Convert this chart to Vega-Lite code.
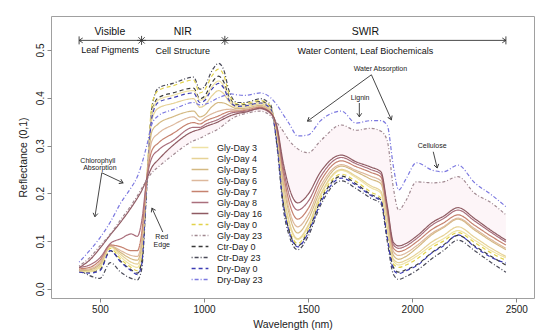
{
"$schema":"https://vega.github.io/schema/vega-lite/v6.json",
"width":483,"height":282,
"autosize":{"type":"none"},
"padding":{"left":51,"top":16,"right":16,"bottom":37},
"background":"white",
"config":{"view":{"stroke":"#a0a0a0","strokeWidth":1},"font":"Liberation Sans"},
"datasets":{
"spectra":[
{"s":"Ctr-Day 23","w":400,"r":0.040},{"s":"Ctr-Day 23","w":450,"r":0.028},{"s":"Ctr-Day 23","w":500,"r":0.022},{"s":"Ctr-Day 23","w":550,"r":0.055},{"s":"Ctr-Day 23","w":600,"r":0.035},{"s":"Ctr-Day 23","w":650,"r":0.022},{"s":"Ctr-Day 23","w":680,"r":0.019},{"s":"Ctr-Day 23","w":700,"r":0.040},{"s":"Ctr-Day 23","w":725,"r":0.210},{"s":"Ctr-Day 23","w":750,"r":0.380},{"s":"Ctr-Day 23","w":780,"r":0.420},{"s":"Ctr-Day 23","w":850,"r":0.430},{"s":"Ctr-Day 23","w":950,"r":0.443},{"s":"Ctr-Day 23","w":980,"r":0.418},{"s":"Ctr-Day 23","w":1000,"r":0.422},{"s":"Ctr-Day 23","w":1040,"r":0.458},{"s":"Ctr-Day 23","w":1070,"r":0.472},{"s":"Ctr-Day 23","w":1095,"r":0.458},{"s":"Ctr-Day 23","w":1120,"r":0.415},{"s":"Ctr-Day 23","w":1160,"r":0.390},{"s":"Ctr-Day 23","w":1200,"r":0.390},{"s":"Ctr-Day 23","w":1270,"r":0.398},{"s":"Ctr-Day 23","w":1320,"r":0.385},{"s":"Ctr-Day 23","w":1350,"r":0.300},{"s":"Ctr-Day 23","w":1380,"r":0.170},{"s":"Ctr-Day 23","w":1410,"r":0.110},{"s":"Ctr-Day 23","w":1450,"r":0.082},{"s":"Ctr-Day 23","w":1500,"r":0.110},{"s":"Ctr-Day 23","w":1560,"r":0.175},{"s":"Ctr-Day 23","w":1660,"r":0.226},{"s":"Ctr-Day 23","w":1730,"r":0.210},{"s":"Ctr-Day 23","w":1800,"r":0.190},{"s":"Ctr-Day 23","w":1850,"r":0.178},{"s":"Ctr-Day 23","w":1880,"r":0.100},{"s":"Ctr-Day 23","w":1910,"r":0.030},{"s":"Ctr-Day 23","w":1935,"r":0.020},{"s":"Ctr-Day 23","w":1970,"r":0.026},{"s":"Ctr-Day 23","w":2020,"r":0.038},{"s":"Ctr-Day 23","w":2100,"r":0.065},{"s":"Ctr-Day 23","w":2150,"r":0.080},{"s":"Ctr-Day 23","w":2220,"r":0.102},{"s":"Ctr-Day 23","w":2300,"r":0.080},{"s":"Ctr-Day 23","w":2380,"r":0.055},{"s":"Ctr-Day 23","w":2450,"r":0.035},
{"s":"Gly-Day 0","w":400,"r":0.036},{"s":"Gly-Day 0","w":450,"r":0.035},{"s":"Gly-Day 0","w":500,"r":0.042},{"s":"Gly-Day 0","w":550,"r":0.085},{"s":"Gly-Day 0","w":600,"r":0.062},{"s":"Gly-Day 0","w":650,"r":0.045},{"s":"Gly-Day 0","w":680,"r":0.038},{"s":"Gly-Day 0","w":700,"r":0.060},{"s":"Gly-Day 0","w":725,"r":0.230},{"s":"Gly-Day 0","w":750,"r":0.385},{"s":"Gly-Day 0","w":780,"r":0.415},{"s":"Gly-Day 0","w":850,"r":0.425},{"s":"Gly-Day 0","w":950,"r":0.437},{"s":"Gly-Day 0","w":980,"r":0.410},{"s":"Gly-Day 0","w":1000,"r":0.415},{"s":"Gly-Day 0","w":1040,"r":0.447},{"s":"Gly-Day 0","w":1070,"r":0.460},{"s":"Gly-Day 0","w":1095,"r":0.447},{"s":"Gly-Day 0","w":1120,"r":0.408},{"s":"Gly-Day 0","w":1160,"r":0.387},{"s":"Gly-Day 0","w":1200,"r":0.388},{"s":"Gly-Day 0","w":1270,"r":0.394},{"s":"Gly-Day 0","w":1320,"r":0.382},{"s":"Gly-Day 0","w":1350,"r":0.310},{"s":"Gly-Day 0","w":1380,"r":0.190},{"s":"Gly-Day 0","w":1410,"r":0.125},{"s":"Gly-Day 0","w":1450,"r":0.095},{"s":"Gly-Day 0","w":1500,"r":0.125},{"s":"Gly-Day 0","w":1560,"r":0.190},{"s":"Gly-Day 0","w":1660,"r":0.240},{"s":"Gly-Day 0","w":1730,"r":0.225},{"s":"Gly-Day 0","w":1800,"r":0.203},{"s":"Gly-Day 0","w":1850,"r":0.190},{"s":"Gly-Day 0","w":1880,"r":0.115},{"s":"Gly-Day 0","w":1910,"r":0.052},{"s":"Gly-Day 0","w":1935,"r":0.045},{"s":"Gly-Day 0","w":1970,"r":0.050},{"s":"Gly-Day 0","w":2020,"r":0.062},{"s":"Gly-Day 0","w":2100,"r":0.088},{"s":"Gly-Day 0","w":2150,"r":0.100},{"s":"Gly-Day 0","w":2220,"r":0.118},{"s":"Gly-Day 0","w":2300,"r":0.097},{"s":"Gly-Day 0","w":2380,"r":0.075},{"s":"Gly-Day 0","w":2450,"r":0.060},
{"s":"Ctr-Day 0","w":400,"r":0.038},{"s":"Ctr-Day 0","w":450,"r":0.036},{"s":"Ctr-Day 0","w":500,"r":0.040},{"s":"Ctr-Day 0","w":550,"r":0.080},{"s":"Ctr-Day 0","w":600,"r":0.058},{"s":"Ctr-Day 0","w":650,"r":0.040},{"s":"Ctr-Day 0","w":680,"r":0.033},{"s":"Ctr-Day 0","w":700,"r":0.055},{"s":"Ctr-Day 0","w":725,"r":0.220},{"s":"Ctr-Day 0","w":750,"r":0.370},{"s":"Ctr-Day 0","w":780,"r":0.400},{"s":"Ctr-Day 0","w":850,"r":0.410},{"s":"Ctr-Day 0","w":950,"r":0.420},{"s":"Ctr-Day 0","w":980,"r":0.398},{"s":"Ctr-Day 0","w":1000,"r":0.402},{"s":"Ctr-Day 0","w":1040,"r":0.433},{"s":"Ctr-Day 0","w":1070,"r":0.445},{"s":"Ctr-Day 0","w":1095,"r":0.433},{"s":"Ctr-Day 0","w":1120,"r":0.402},{"s":"Ctr-Day 0","w":1160,"r":0.385},{"s":"Ctr-Day 0","w":1200,"r":0.385},{"s":"Ctr-Day 0","w":1270,"r":0.392},{"s":"Ctr-Day 0","w":1320,"r":0.380},{"s":"Ctr-Day 0","w":1350,"r":0.310},{"s":"Ctr-Day 0","w":1380,"r":0.185},{"s":"Ctr-Day 0","w":1410,"r":0.120},{"s":"Ctr-Day 0","w":1450,"r":0.090},{"s":"Ctr-Day 0","w":1500,"r":0.120},{"s":"Ctr-Day 0","w":1560,"r":0.185},{"s":"Ctr-Day 0","w":1660,"r":0.236},{"s":"Ctr-Day 0","w":1730,"r":0.220},{"s":"Ctr-Day 0","w":1800,"r":0.198},{"s":"Ctr-Day 0","w":1850,"r":0.186},{"s":"Ctr-Day 0","w":1880,"r":0.110},{"s":"Ctr-Day 0","w":1910,"r":0.045},{"s":"Ctr-Day 0","w":1935,"r":0.035},{"s":"Ctr-Day 0","w":1970,"r":0.040},{"s":"Ctr-Day 0","w":2020,"r":0.050},{"s":"Ctr-Day 0","w":2100,"r":0.078},{"s":"Ctr-Day 0","w":2150,"r":0.092},{"s":"Ctr-Day 0","w":2220,"r":0.112},{"s":"Ctr-Day 0","w":2300,"r":0.090},{"s":"Ctr-Day 0","w":2380,"r":0.068},{"s":"Ctr-Day 0","w":2450,"r":0.050},
{"s":"Gly-Day 3","w":400,"r":0.037},{"s":"Gly-Day 3","w":450,"r":0.036},{"s":"Gly-Day 3","w":500,"r":0.045},{"s":"Gly-Day 3","w":550,"r":0.088},{"s":"Gly-Day 3","w":600,"r":0.067},{"s":"Gly-Day 3","w":650,"r":0.050},{"s":"Gly-Day 3","w":680,"r":0.045},{"s":"Gly-Day 3","w":700,"r":0.070},{"s":"Gly-Day 3","w":725,"r":0.230},{"s":"Gly-Day 3","w":750,"r":0.370},{"s":"Gly-Day 3","w":780,"r":0.395},{"s":"Gly-Day 3","w":850,"r":0.405},{"s":"Gly-Day 3","w":950,"r":0.415},{"s":"Gly-Day 3","w":980,"r":0.395},{"s":"Gly-Day 3","w":1000,"r":0.398},{"s":"Gly-Day 3","w":1040,"r":0.424},{"s":"Gly-Day 3","w":1070,"r":0.435},{"s":"Gly-Day 3","w":1095,"r":0.425},{"s":"Gly-Day 3","w":1120,"r":0.398},{"s":"Gly-Day 3","w":1160,"r":0.383},{"s":"Gly-Day 3","w":1200,"r":0.384},{"s":"Gly-Day 3","w":1270,"r":0.390},{"s":"Gly-Day 3","w":1320,"r":0.378},{"s":"Gly-Day 3","w":1350,"r":0.320},{"s":"Gly-Day 3","w":1380,"r":0.200},{"s":"Gly-Day 3","w":1410,"r":0.135},{"s":"Gly-Day 3","w":1450,"r":0.103},{"s":"Gly-Day 3","w":1500,"r":0.130},{"s":"Gly-Day 3","w":1560,"r":0.195},{"s":"Gly-Day 3","w":1660,"r":0.248},{"s":"Gly-Day 3","w":1730,"r":0.233},{"s":"Gly-Day 3","w":1800,"r":0.212},{"s":"Gly-Day 3","w":1850,"r":0.200},{"s":"Gly-Day 3","w":1880,"r":0.125},{"s":"Gly-Day 3","w":1910,"r":0.058},{"s":"Gly-Day 3","w":1935,"r":0.050},{"s":"Gly-Day 3","w":1970,"r":0.055},{"s":"Gly-Day 3","w":2020,"r":0.068},{"s":"Gly-Day 3","w":2100,"r":0.093},{"s":"Gly-Day 3","w":2150,"r":0.105},{"s":"Gly-Day 3","w":2220,"r":0.122},{"s":"Gly-Day 3","w":2300,"r":0.102},{"s":"Gly-Day 3","w":2380,"r":0.080},{"s":"Gly-Day 3","w":2450,"r":0.065},
{"s":"Gly-Day 4","w":400,"r":0.038},{"s":"Gly-Day 4","w":450,"r":0.038},{"s":"Gly-Day 4","w":500,"r":0.048},{"s":"Gly-Day 4","w":550,"r":0.090},{"s":"Gly-Day 4","w":600,"r":0.072},{"s":"Gly-Day 4","w":650,"r":0.056},{"s":"Gly-Day 4","w":680,"r":0.052},{"s":"Gly-Day 4","w":700,"r":0.080},{"s":"Gly-Day 4","w":725,"r":0.230},{"s":"Gly-Day 4","w":750,"r":0.355},{"s":"Gly-Day 4","w":780,"r":0.378},{"s":"Gly-Day 4","w":850,"r":0.388},{"s":"Gly-Day 4","w":950,"r":0.398},{"s":"Gly-Day 4","w":980,"r":0.380},{"s":"Gly-Day 4","w":1000,"r":0.383},{"s":"Gly-Day 4","w":1040,"r":0.405},{"s":"Gly-Day 4","w":1070,"r":0.415},{"s":"Gly-Day 4","w":1095,"r":0.408},{"s":"Gly-Day 4","w":1120,"r":0.392},{"s":"Gly-Day 4","w":1160,"r":0.380},{"s":"Gly-Day 4","w":1200,"r":0.381},{"s":"Gly-Day 4","w":1270,"r":0.387},{"s":"Gly-Day 4","w":1320,"r":0.375},{"s":"Gly-Day 4","w":1350,"r":0.325},{"s":"Gly-Day 4","w":1380,"r":0.210},{"s":"Gly-Day 4","w":1410,"r":0.140},{"s":"Gly-Day 4","w":1450,"r":0.105},{"s":"Gly-Day 4","w":1500,"r":0.133},{"s":"Gly-Day 4","w":1560,"r":0.198},{"s":"Gly-Day 4","w":1660,"r":0.250},{"s":"Gly-Day 4","w":1730,"r":0.236},{"s":"Gly-Day 4","w":1800,"r":0.216},{"s":"Gly-Day 4","w":1850,"r":0.204},{"s":"Gly-Day 4","w":1880,"r":0.130},{"s":"Gly-Day 4","w":1910,"r":0.062},{"s":"Gly-Day 4","w":1935,"r":0.055},{"s":"Gly-Day 4","w":1970,"r":0.060},{"s":"Gly-Day 4","w":2020,"r":0.073},{"s":"Gly-Day 4","w":2100,"r":0.100},{"s":"Gly-Day 4","w":2150,"r":0.112},{"s":"Gly-Day 4","w":2220,"r":0.130},{"s":"Gly-Day 4","w":2300,"r":0.108},{"s":"Gly-Day 4","w":2380,"r":0.085},{"s":"Gly-Day 4","w":2450,"r":0.068},
{"s":"Dry-Day 0","w":400,"r":0.035},{"s":"Dry-Day 0","w":450,"r":0.033},{"s":"Dry-Day 0","w":500,"r":0.038},{"s":"Dry-Day 0","w":550,"r":0.080},{"s":"Dry-Day 0","w":600,"r":0.056},{"s":"Dry-Day 0","w":650,"r":0.038},{"s":"Dry-Day 0","w":680,"r":0.030},{"s":"Dry-Day 0","w":700,"r":0.050},{"s":"Dry-Day 0","w":725,"r":0.220},{"s":"Dry-Day 0","w":750,"r":0.360},{"s":"Dry-Day 0","w":780,"r":0.390},{"s":"Dry-Day 0","w":850,"r":0.400},{"s":"Dry-Day 0","w":950,"r":0.410},{"s":"Dry-Day 0","w":980,"r":0.390},{"s":"Dry-Day 0","w":1000,"r":0.393},{"s":"Dry-Day 0","w":1040,"r":0.419},{"s":"Dry-Day 0","w":1070,"r":0.430},{"s":"Dry-Day 0","w":1095,"r":0.420},{"s":"Dry-Day 0","w":1120,"r":0.395},{"s":"Dry-Day 0","w":1160,"r":0.382},{"s":"Dry-Day 0","w":1200,"r":0.383},{"s":"Dry-Day 0","w":1270,"r":0.389},{"s":"Dry-Day 0","w":1320,"r":0.377},{"s":"Dry-Day 0","w":1350,"r":0.305},{"s":"Dry-Day 0","w":1380,"r":0.180},{"s":"Dry-Day 0","w":1410,"r":0.118},{"s":"Dry-Day 0","w":1450,"r":0.088},{"s":"Dry-Day 0","w":1500,"r":0.117},{"s":"Dry-Day 0","w":1560,"r":0.180},{"s":"Dry-Day 0","w":1660,"r":0.232},{"s":"Dry-Day 0","w":1730,"r":0.217},{"s":"Dry-Day 0","w":1800,"r":0.196},{"s":"Dry-Day 0","w":1850,"r":0.183},{"s":"Dry-Day 0","w":1880,"r":0.108},{"s":"Dry-Day 0","w":1910,"r":0.040},{"s":"Dry-Day 0","w":1935,"r":0.032},{"s":"Dry-Day 0","w":1970,"r":0.038},{"s":"Dry-Day 0","w":2020,"r":0.048},{"s":"Dry-Day 0","w":2100,"r":0.077},{"s":"Dry-Day 0","w":2150,"r":0.090},{"s":"Dry-Day 0","w":2220,"r":0.113},{"s":"Dry-Day 0","w":2300,"r":0.088},{"s":"Dry-Day 0","w":2380,"r":0.066},{"s":"Dry-Day 0","w":2450,"r":0.054},
{"s":"Gly-Day 5","w":400,"r":0.038},{"s":"Gly-Day 5","w":450,"r":0.040},{"s":"Gly-Day 5","w":500,"r":0.052},{"s":"Gly-Day 5","w":550,"r":0.090},{"s":"Gly-Day 5","w":600,"r":0.076},{"s":"Gly-Day 5","w":650,"r":0.063},{"s":"Gly-Day 5","w":680,"r":0.060},{"s":"Gly-Day 5","w":700,"r":0.090},{"s":"Gly-Day 5","w":725,"r":0.230},{"s":"Gly-Day 5","w":750,"r":0.330},{"s":"Gly-Day 5","w":780,"r":0.345},{"s":"Gly-Day 5","w":850,"r":0.360},{"s":"Gly-Day 5","w":950,"r":0.372},{"s":"Gly-Day 5","w":980,"r":0.360},{"s":"Gly-Day 5","w":1000,"r":0.363},{"s":"Gly-Day 5","w":1040,"r":0.382},{"s":"Gly-Day 5","w":1070,"r":0.390},{"s":"Gly-Day 5","w":1095,"r":0.389},{"s":"Gly-Day 5","w":1120,"r":0.384},{"s":"Gly-Day 5","w":1160,"r":0.377},{"s":"Gly-Day 5","w":1200,"r":0.378},{"s":"Gly-Day 5","w":1270,"r":0.384},{"s":"Gly-Day 5","w":1320,"r":0.372},{"s":"Gly-Day 5","w":1350,"r":0.330},{"s":"Gly-Day 5","w":1380,"r":0.225},{"s":"Gly-Day 5","w":1410,"r":0.155},{"s":"Gly-Day 5","w":1450,"r":0.117},{"s":"Gly-Day 5","w":1500,"r":0.145},{"s":"Gly-Day 5","w":1560,"r":0.207},{"s":"Gly-Day 5","w":1660,"r":0.257},{"s":"Gly-Day 5","w":1730,"r":0.245},{"s":"Gly-Day 5","w":1800,"r":0.230},{"s":"Gly-Day 5","w":1850,"r":0.220},{"s":"Gly-Day 5","w":1880,"r":0.150},{"s":"Gly-Day 5","w":1910,"r":0.070},{"s":"Gly-Day 5","w":1935,"r":0.062},{"s":"Gly-Day 5","w":1970,"r":0.068},{"s":"Gly-Day 5","w":2020,"r":0.085},{"s":"Gly-Day 5","w":2100,"r":0.115},{"s":"Gly-Day 5","w":2150,"r":0.128},{"s":"Gly-Day 5","w":2220,"r":0.146},{"s":"Gly-Day 5","w":2300,"r":0.123},{"s":"Gly-Day 5","w":2380,"r":0.100},{"s":"Gly-Day 5","w":2450,"r":0.082},
{"s":"Gly-Day 6","w":400,"r":0.040},{"s":"Gly-Day 6","w":450,"r":0.042},{"s":"Gly-Day 6","w":500,"r":0.055},{"s":"Gly-Day 6","w":550,"r":0.090},{"s":"Gly-Day 6","w":600,"r":0.080},{"s":"Gly-Day 6","w":650,"r":0.070},{"s":"Gly-Day 6","w":680,"r":0.068},{"s":"Gly-Day 6","w":700,"r":0.100},{"s":"Gly-Day 6","w":725,"r":0.230},{"s":"Gly-Day 6","w":750,"r":0.310},{"s":"Gly-Day 6","w":780,"r":0.325},{"s":"Gly-Day 6","w":850,"r":0.343},{"s":"Gly-Day 6","w":950,"r":0.360},{"s":"Gly-Day 6","w":980,"r":0.352},{"s":"Gly-Day 6","w":1010,"r":0.360},{"s":"Gly-Day 6","w":1070,"r":0.372},{"s":"Gly-Day 6","w":1100,"r":0.375},{"s":"Gly-Day 6","w":1130,"r":0.376},{"s":"Gly-Day 6","w":1160,"r":0.374},{"s":"Gly-Day 6","w":1200,"r":0.376},{"s":"Gly-Day 6","w":1270,"r":0.382},{"s":"Gly-Day 6","w":1320,"r":0.370},{"s":"Gly-Day 6","w":1350,"r":0.333},{"s":"Gly-Day 6","w":1380,"r":0.235},{"s":"Gly-Day 6","w":1410,"r":0.165},{"s":"Gly-Day 6","w":1450,"r":0.130},{"s":"Gly-Day 6","w":1500,"r":0.155},{"s":"Gly-Day 6","w":1560,"r":0.215},{"s":"Gly-Day 6","w":1660,"r":0.260},{"s":"Gly-Day 6","w":1730,"r":0.248},{"s":"Gly-Day 6","w":1800,"r":0.236},{"s":"Gly-Day 6","w":1850,"r":0.226},{"s":"Gly-Day 6","w":1880,"r":0.158},{"s":"Gly-Day 6","w":1910,"r":0.078},{"s":"Gly-Day 6","w":1935,"r":0.070},{"s":"Gly-Day 6","w":1970,"r":0.075},{"s":"Gly-Day 6","w":2020,"r":0.090},{"s":"Gly-Day 6","w":2100,"r":0.118},{"s":"Gly-Day 6","w":2150,"r":0.130},{"s":"Gly-Day 6","w":2220,"r":0.148},{"s":"Gly-Day 6","w":2300,"r":0.126},{"s":"Gly-Day 6","w":2380,"r":0.103},{"s":"Gly-Day 6","w":2450,"r":0.085},
{"s":"Gly-Day 7","w":400,"r":0.042},{"s":"Gly-Day 7","w":450,"r":0.045},{"s":"Gly-Day 7","w":500,"r":0.060},{"s":"Gly-Day 7","w":550,"r":0.092},{"s":"Gly-Day 7","w":600,"r":0.088},{"s":"Gly-Day 7","w":650,"r":0.080},{"s":"Gly-Day 7","w":680,"r":0.080},{"s":"Gly-Day 7","w":700,"r":0.115},{"s":"Gly-Day 7","w":725,"r":0.230},{"s":"Gly-Day 7","w":750,"r":0.290},{"s":"Gly-Day 7","w":780,"r":0.305},{"s":"Gly-Day 7","w":850,"r":0.325},{"s":"Gly-Day 7","w":950,"r":0.348},{"s":"Gly-Day 7","w":980,"r":0.345},{"s":"Gly-Day 7","w":1010,"r":0.352},{"s":"Gly-Day 7","w":1070,"r":0.362},{"s":"Gly-Day 7","w":1100,"r":0.368},{"s":"Gly-Day 7","w":1130,"r":0.372},{"s":"Gly-Day 7","w":1160,"r":0.372},{"s":"Gly-Day 7","w":1200,"r":0.374},{"s":"Gly-Day 7","w":1270,"r":0.380},{"s":"Gly-Day 7","w":1320,"r":0.368},{"s":"Gly-Day 7","w":1350,"r":0.335},{"s":"Gly-Day 7","w":1380,"r":0.245},{"s":"Gly-Day 7","w":1410,"r":0.180},{"s":"Gly-Day 7","w":1450,"r":0.146},{"s":"Gly-Day 7","w":1500,"r":0.168},{"s":"Gly-Day 7","w":1560,"r":0.225},{"s":"Gly-Day 7","w":1660,"r":0.268},{"s":"Gly-Day 7","w":1730,"r":0.256},{"s":"Gly-Day 7","w":1800,"r":0.244},{"s":"Gly-Day 7","w":1850,"r":0.234},{"s":"Gly-Day 7","w":1880,"r":0.165},{"s":"Gly-Day 7","w":1910,"r":0.085},{"s":"Gly-Day 7","w":1935,"r":0.078},{"s":"Gly-Day 7","w":1970,"r":0.083},{"s":"Gly-Day 7","w":2020,"r":0.098},{"s":"Gly-Day 7","w":2100,"r":0.126},{"s":"Gly-Day 7","w":2150,"r":0.138},{"s":"Gly-Day 7","w":2220,"r":0.155},{"s":"Gly-Day 7","w":2300,"r":0.133},{"s":"Gly-Day 7","w":2380,"r":0.110},{"s":"Gly-Day 7","w":2450,"r":0.092},
{"s":"Gly-Day 8","w":400,"r":0.045},{"s":"Gly-Day 8","w":450,"r":0.050},{"s":"Gly-Day 8","w":500,"r":0.065},{"s":"Gly-Day 8","w":550,"r":0.095},{"s":"Gly-Day 8","w":600,"r":0.105},{"s":"Gly-Day 8","w":650,"r":0.115},{"s":"Gly-Day 8","w":680,"r":0.110},{"s":"Gly-Day 8","w":700,"r":0.140},{"s":"Gly-Day 8","w":725,"r":0.230},{"s":"Gly-Day 8","w":750,"r":0.275},{"s":"Gly-Day 8","w":780,"r":0.290},{"s":"Gly-Day 8","w":850,"r":0.310},{"s":"Gly-Day 8","w":950,"r":0.338},{"s":"Gly-Day 8","w":980,"r":0.338},{"s":"Gly-Day 8","w":1010,"r":0.345},{"s":"Gly-Day 8","w":1070,"r":0.355},{"s":"Gly-Day 8","w":1100,"r":0.362},{"s":"Gly-Day 8","w":1130,"r":0.368},{"s":"Gly-Day 8","w":1160,"r":0.370},{"s":"Gly-Day 8","w":1200,"r":0.372},{"s":"Gly-Day 8","w":1270,"r":0.377},{"s":"Gly-Day 8","w":1320,"r":0.367},{"s":"Gly-Day 8","w":1350,"r":0.338},{"s":"Gly-Day 8","w":1380,"r":0.255},{"s":"Gly-Day 8","w":1410,"r":0.195},{"s":"Gly-Day 8","w":1450,"r":0.165},{"s":"Gly-Day 8","w":1500,"r":0.183},{"s":"Gly-Day 8","w":1560,"r":0.235},{"s":"Gly-Day 8","w":1660,"r":0.275},{"s":"Gly-Day 8","w":1730,"r":0.262},{"s":"Gly-Day 8","w":1800,"r":0.250},{"s":"Gly-Day 8","w":1850,"r":0.240},{"s":"Gly-Day 8","w":1880,"r":0.170},{"s":"Gly-Day 8","w":1910,"r":0.092},{"s":"Gly-Day 8","w":1935,"r":0.085},{"s":"Gly-Day 8","w":1970,"r":0.090},{"s":"Gly-Day 8","w":2020,"r":0.105},{"s":"Gly-Day 8","w":2100,"r":0.135},{"s":"Gly-Day 8","w":2150,"r":0.147},{"s":"Gly-Day 8","w":2220,"r":0.165},{"s":"Gly-Day 8","w":2300,"r":0.142},{"s":"Gly-Day 8","w":2380,"r":0.118},{"s":"Gly-Day 8","w":2450,"r":0.098},
{"s":"Gly-Day 16","w":400,"r":0.045},{"s":"Gly-Day 16","w":450,"r":0.060},{"s":"Gly-Day 16","w":500,"r":0.085},{"s":"Gly-Day 16","w":550,"r":0.113},{"s":"Gly-Day 16","w":600,"r":0.140},{"s":"Gly-Day 16","w":650,"r":0.170},{"s":"Gly-Day 16","w":680,"r":0.190},{"s":"Gly-Day 16","w":700,"r":0.205},{"s":"Gly-Day 16","w":725,"r":0.230},{"s":"Gly-Day 16","w":750,"r":0.255},{"s":"Gly-Day 16","w":780,"r":0.270},{"s":"Gly-Day 16","w":850,"r":0.300},{"s":"Gly-Day 16","w":950,"r":0.330},{"s":"Gly-Day 16","w":980,"r":0.334},{"s":"Gly-Day 16","w":1010,"r":0.340},{"s":"Gly-Day 16","w":1070,"r":0.350},{"s":"Gly-Day 16","w":1100,"r":0.357},{"s":"Gly-Day 16","w":1130,"r":0.363},{"s":"Gly-Day 16","w":1160,"r":0.367},{"s":"Gly-Day 16","w":1200,"r":0.370},{"s":"Gly-Day 16","w":1270,"r":0.378},{"s":"Gly-Day 16","w":1320,"r":0.368},{"s":"Gly-Day 16","w":1350,"r":0.340},{"s":"Gly-Day 16","w":1380,"r":0.265},{"s":"Gly-Day 16","w":1410,"r":0.210},{"s":"Gly-Day 16","w":1450,"r":0.180},{"s":"Gly-Day 16","w":1500,"r":0.198},{"s":"Gly-Day 16","w":1560,"r":0.245},{"s":"Gly-Day 16","w":1660,"r":0.280},{"s":"Gly-Day 16","w":1730,"r":0.266},{"s":"Gly-Day 16","w":1800,"r":0.255},{"s":"Gly-Day 16","w":1850,"r":0.245},{"s":"Gly-Day 16","w":1880,"r":0.175},{"s":"Gly-Day 16","w":1910,"r":0.097},{"s":"Gly-Day 16","w":1935,"r":0.090},{"s":"Gly-Day 16","w":1970,"r":0.095},{"s":"Gly-Day 16","w":2020,"r":0.110},{"s":"Gly-Day 16","w":2100,"r":0.140},{"s":"Gly-Day 16","w":2150,"r":0.152},{"s":"Gly-Day 16","w":2220,"r":0.170},{"s":"Gly-Day 16","w":2300,"r":0.147},{"s":"Gly-Day 16","w":2380,"r":0.122},{"s":"Gly-Day 16","w":2450,"r":0.102},
{"s":"Gly-Day 23","w":400,"r":0.048},{"s":"Gly-Day 23","w":450,"r":0.065},{"s":"Gly-Day 23","w":500,"r":0.090},{"s":"Gly-Day 23","w":550,"r":0.115},{"s":"Gly-Day 23","w":600,"r":0.145},{"s":"Gly-Day 23","w":650,"r":0.175},{"s":"Gly-Day 23","w":680,"r":0.195},{"s":"Gly-Day 23","w":700,"r":0.210},{"s":"Gly-Day 23","w":725,"r":0.228},{"s":"Gly-Day 23","w":750,"r":0.243},{"s":"Gly-Day 23","w":780,"r":0.255},{"s":"Gly-Day 23","w":850,"r":0.280},{"s":"Gly-Day 23","w":950,"r":0.310},{"s":"Gly-Day 23","w":980,"r":0.315},{"s":"Gly-Day 23","w":1010,"r":0.322},{"s":"Gly-Day 23","w":1070,"r":0.335},{"s":"Gly-Day 23","w":1100,"r":0.345},{"s":"Gly-Day 23","w":1130,"r":0.355},{"s":"Gly-Day 23","w":1160,"r":0.362},{"s":"Gly-Day 23","w":1200,"r":0.367},{"s":"Gly-Day 23","w":1270,"r":0.372},{"s":"Gly-Day 23","w":1320,"r":0.362},{"s":"Gly-Day 23","w":1350,"r":0.348},{"s":"Gly-Day 23","w":1380,"r":0.330},{"s":"Gly-Day 23","w":1410,"r":0.310},{"s":"Gly-Day 23","w":1450,"r":0.293},{"s":"Gly-Day 23","w":1500,"r":0.285},{"s":"Gly-Day 23","w":1560,"r":0.310},{"s":"Gly-Day 23","w":1660,"r":0.343},{"s":"Gly-Day 23","w":1730,"r":0.332},{"s":"Gly-Day 23","w":1800,"r":0.336},{"s":"Gly-Day 23","w":1850,"r":0.330},{"s":"Gly-Day 23","w":1880,"r":0.310},{"s":"Gly-Day 23","w":1910,"r":0.210},{"s":"Gly-Day 23","w":1935,"r":0.165},{"s":"Gly-Day 23","w":1970,"r":0.185},{"s":"Gly-Day 23","w":2020,"r":0.224},{"s":"Gly-Day 23","w":2100,"r":0.222},{"s":"Gly-Day 23","w":2150,"r":0.224},{"s":"Gly-Day 23","w":2220,"r":0.235},{"s":"Gly-Day 23","w":2300,"r":0.200},{"s":"Gly-Day 23","w":2380,"r":0.180},{"s":"Gly-Day 23","w":2450,"r":0.155},
{"s":"Dry-Day 23","w":400,"r":0.056},{"s":"Dry-Day 23","w":450,"r":0.080},{"s":"Dry-Day 23","w":500,"r":0.107},{"s":"Dry-Day 23","w":550,"r":0.140},{"s":"Dry-Day 23","w":600,"r":0.180},{"s":"Dry-Day 23","w":650,"r":0.212},{"s":"Dry-Day 23","w":680,"r":0.235},{"s":"Dry-Day 23","w":700,"r":0.260},{"s":"Dry-Day 23","w":725,"r":0.300},{"s":"Dry-Day 23","w":750,"r":0.345},{"s":"Dry-Day 23","w":780,"r":0.362},{"s":"Dry-Day 23","w":850,"r":0.375},{"s":"Dry-Day 23","w":950,"r":0.390},{"s":"Dry-Day 23","w":980,"r":0.385},{"s":"Dry-Day 23","w":1010,"r":0.387},{"s":"Dry-Day 23","w":1070,"r":0.400},{"s":"Dry-Day 23","w":1100,"r":0.405},{"s":"Dry-Day 23","w":1130,"r":0.408},{"s":"Dry-Day 23","w":1160,"r":0.406},{"s":"Dry-Day 23","w":1200,"r":0.405},{"s":"Dry-Day 23","w":1270,"r":0.410},{"s":"Dry-Day 23","w":1320,"r":0.400},{"s":"Dry-Day 23","w":1350,"r":0.385},{"s":"Dry-Day 23","w":1380,"r":0.365},{"s":"Dry-Day 23","w":1410,"r":0.345},{"s":"Dry-Day 23","w":1450,"r":0.320},{"s":"Dry-Day 23","w":1500,"r":0.322},{"s":"Dry-Day 23","w":1560,"r":0.352},{"s":"Dry-Day 23","w":1660,"r":0.372},{"s":"Dry-Day 23","w":1730,"r":0.347},{"s":"Dry-Day 23","w":1800,"r":0.352},{"s":"Dry-Day 23","w":1850,"r":0.352},{"s":"Dry-Day 23","w":1880,"r":0.342},{"s":"Dry-Day 23","w":1910,"r":0.255},{"s":"Dry-Day 23","w":1935,"r":0.207},{"s":"Dry-Day 23","w":1970,"r":0.230},{"s":"Dry-Day 23","w":2020,"r":0.264},{"s":"Dry-Day 23","w":2100,"r":0.248},{"s":"Dry-Day 23","w":2150,"r":0.245},{"s":"Dry-Day 23","w":2220,"r":0.259},{"s":"Dry-Day 23","w":2300,"r":0.222},{"s":"Dry-Day 23","w":2380,"r":0.197},{"s":"Dry-Day 23","w":2450,"r":0.172}
],
"arrows":[
{"x":400,"y":0.52,"x2":2450,"y2":0.52},
{"x":1804,"y":0.448,"x2":1497,"y2":0.351},
{"x":1804,"y":0.448,"x2":1900,"y2":0.354},
{"x":1746,"y":0.389,"x2":1746,"y2":0.36},
{"x":2101,"y":0.287,"x2":2120,"y2":0.253},
{"x":509,"y":0.243,"x2":476,"y2":0.151},
{"x":509,"y":0.243,"x2":611,"y2":0.222},
{"x":802,"y":0.119,"x2":750,"y2":0.169}
],
"heads":[
{"x":400,"y":0.52,"dir":270},{"x":2450,"y":0.52,"dir":90},
{"x":1497,"y":0.351,"dir":234},{"x":1900,"y":0.354,"dir":156},
{"x":1746,"y":0.36,"dir":180},{"x":2120,"y":0.253,"dir":166},
{"x":476,"y":0.151,"dir":189},{"x":611,"y":0.222,"dir":115},
{"x":750,"y":0.169,"dir":336}
],
"bars":[{"x":400,"y":0.52},{"x":2450,"y":0.52}],
"stars":[{"x":700,"y":0.52},{"x":1100,"y":0.52}],
"big":[{"t":"Visible","x":548,"y":0.538},{"t":"NIR","x":898,"y":0.538},{"t":"SWIR","x":1775,"y":0.538}],
"mid":[{"t":"Leaf Pigments","x":548,"y":0.499},{"t":"Cell Structure","x":898,"y":0.498},{"t":"Water Content, Leaf Biochemicals","x":1775,"y":0.498}],
"small":[{"t":"Water Absorption","x":1847,"y":0.461},{"t":"Lignin","x":1750,"y":0.40},{"t":"Cellulose","x":2096,"y":0.299},{"t":"Chlorophyll","x":490,"y":0.268},{"t":"Absorption","x":500,"y":0.252},{"t":"Red","x":797,"y":0.109},{"t":"Edge","x":797,"y":0.091}]
},
"layer":[
{"data":{"name":"spectra"},
 "transform":[{"filter":{"field":"s","oneOf":["Gly-Day 16","Gly-Day 23"]}},{"pivot":"s","value":"r","groupby":["w"]}],
 "mark":{"type":"area","color":"#fbe6ee","opacity":0.4,"interpolate":"monotone"},
 "encoding":{"x":{"field":"w","type":"quantitative","title":"Wavelength (nm)"},"y":{"field":"Gly-Day 16","type":"quantitative","title":"Reflectance (0,1)"},"y2":{"field":"Gly-Day 23"}}},
{"data":{"name":"spectra"},
 "mark":{"type":"line","strokeWidth":1.2,"interpolate":"monotone"},
 "encoding":{
  "x":{"field":"w","type":"quantitative","scale":{"domain":[265,2585],"nice":false,"zero":false},
   "axis":{"values":[500,1000,1500,2000,2500],"format":"d","title":"Wavelength (nm)","grid":false,"domain":false,"tickColor":"#888","tickSize":4,"labelFontSize":10,"labelColor":"#222","labelPadding":2,"labelFont":"Liberation Sans","titleFont":"Liberation Sans","titleFontSize":10.5,"titleFontWeight":"normal","titleColor":"#222","titleY":26,"titleBaseline":"middle"}},
  "y":{"field":"r","type":"quantitative","scale":{"domain":[-0.019,0.571],"nice":false,"zero":false},
   "axis":{"values":[0,0.1,0.2,0.3,0.4,0.5],"format":".1f","title":"Reflectance (0,1)","grid":false,"domain":false,"tickColor":"#888","tickSize":4,"labelFontSize":10,"labelColor":"#222","labelAngle":-90,"labelAlign":"center","labelBaseline":"middle","labelPadding":7,"labelFont":"Liberation Sans","titleFont":"Liberation Sans","titleFontSize":10.5,"titleFontWeight":"normal","titleColor":"#222","titleX":-28,"titleY":141,"titleAngle":-90,"titleAlign":"center","titleBaseline":"middle"}},
  "color":{"field":"s","type":"nominal",
   "scale":{"domain":["Gly-Day 3","Gly-Day 4","Gly-Day 5","Gly-Day 6","Gly-Day 7","Gly-Day 8","Gly-Day 16","Gly-Day 0","Gly-Day 23","Ctr-Day 0","Ctr-Day 23","Dry-Day 0","Dry-Day 23"],
    "range":["#efe2a4","#e6d296","#d4b982","#ddb89c","#c6826f","#aa6f7c","#8f5a62","#e2d24a","#a08890","#3a3a3a","#4a4a58","#3c3cb4","#7b78e0"]},
   "legend":{"title":null,"orient":"none","legendX":144,"legendY":126.5,"symbolType":"M-2.1,0L2.1,0","symbolSize":64,"symbolStrokeWidth":1.4,"labelFontSize":9,"labelFont":"Liberation Sans","labelColor":"#222","labelOffset":12,"rowPadding":1,"padding":0}},
  "strokeDash":{"field":"s","type":"nominal",
   "scale":{"domain":["Gly-Day 3","Gly-Day 4","Gly-Day 5","Gly-Day 6","Gly-Day 7","Gly-Day 8","Gly-Day 16","Gly-Day 0","Gly-Day 23","Ctr-Day 0","Ctr-Day 23","Dry-Day 0","Dry-Day 23"],
    "range":[[1,0],[1,0],[1,0],[1,0],[1,0],[1,0],[1,0],[4,3],[1,2,3,2],[4,3],[1,2,4,2],[4,3],[1,2,4,2]]}}
 }},
{"data":{"name":"arrows"},"mark":{"type":"rule","color":"#333","strokeWidth":0.9},
 "encoding":{"x":{"field":"x","type":"quantitative"},"y":{"field":"y","type":"quantitative"},"x2":{"field":"x2"},"y2":{"field":"y2"}}},
{"data":{"name":"heads"},"mark":{"type":"point","shape":"M-0.6,0.9L0,0L0.6,0.9","filled":false,"stroke":"#333","strokeWidth":0.9,"size":64,"opacity":1},
 "encoding":{"x":{"field":"x","type":"quantitative"},"y":{"field":"y","type":"quantitative"},"angle":{"field":"dir","type":"quantitative","scale":null}}},
{"data":{"name":"bars"},"mark":{"type":"point","shape":"M0,-1L0,1","filled":false,"stroke":"#333","strokeWidth":0.9,"size":64,"opacity":1},
 "encoding":{"x":{"field":"x","type":"quantitative"},"y":{"field":"y","type":"quantitative"}}},
{"data":{"name":"stars"},"mark":{"type":"point","shape":"M-1,0L1,0M0,-1L0,1M-0.7,-0.7L0.7,0.7M-0.7,0.7L0.7,-0.7","filled":false,"stroke":"#333","strokeWidth":0.9,"size":81,"opacity":1},
 "encoding":{"x":{"field":"x","type":"quantitative"},"y":{"field":"y","type":"quantitative"}}},
{"data":{"name":"big"},"mark":{"type":"text","fontSize":10.5,"font":"Liberation Sans","color":"#111","baseline":"middle"},
 "encoding":{"x":{"field":"x","type":"quantitative"},"y":{"field":"y","type":"quantitative"},"text":{"field":"t"}}},
{"data":{"name":"mid"},"mark":{"type":"text","fontSize":9,"font":"Liberation Sans","color":"#111","baseline":"middle"},
 "encoding":{"x":{"field":"x","type":"quantitative"},"y":{"field":"y","type":"quantitative"},"text":{"field":"t"}}},
{"data":{"name":"small"},"mark":{"type":"text","fontSize":7,"font":"Liberation Sans","color":"#222","baseline":"middle"},
 "encoding":{"x":{"field":"x","type":"quantitative"},"y":{"field":"y","type":"quantitative"},"text":{"field":"t"}}}
]
}
